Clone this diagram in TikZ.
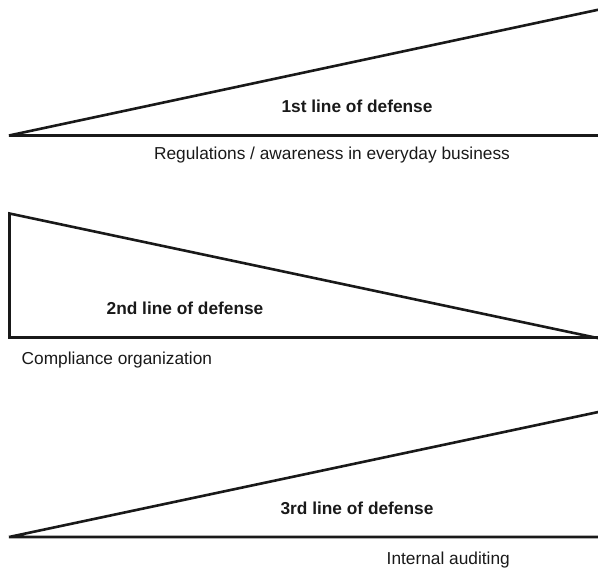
\documentclass[tikz,border=0pt]{standalone}
\usepackage{fontspec}
\setmainfont{Liberation Sans}
\begin{document}
\begin{tikzpicture}[x=1pt,y=-1pt,
  wedge/.style={draw=black!90,line width=2.6pt,line join=miter,miter limit=2},
  title/.style={font=\fontsize{17.3}{20}\selectfont\bfseries,text=black!90,inner sep=0pt},
  caption/.style={font=\fontsize{17.3}{20}\selectfont,text=black!90,inner sep=0pt}]
  \useasboundingbox (0,0) rectangle (598,568);
  \clip (0,0) rectangle (598,568);
  % first line: wedge rising to the right
  \draw[wedge] (604,8.5) -- (9,135.5) -- (604,135.5);
  \node[title] (l1) at (357,106) {1st line of defense};
  \node[caption] (c1) at (332,155) {Regulations / awareness in everyday business};
  % second line: wedge falling to the right
  \draw[wedge] (604,339.4) -- (9.5,213.5) -- (9.5,337.5) -- (604,337.5);
  \node[title] (l2) at (185,308) {2nd line of defense};
  \node[caption,anchor=west] (c2) at (21.5,360) {Compliance organization};
  % third line: wedge rising to the right
  \draw[wedge] (604,410.8) -- (9,537) -- (604,537);
  \node[title] (l3) at (357,508) {3rd line of defense};
  \node[caption,anchor=east] (c3) at (510,560) {Internal auditing};
\end{tikzpicture}
\end{document}
